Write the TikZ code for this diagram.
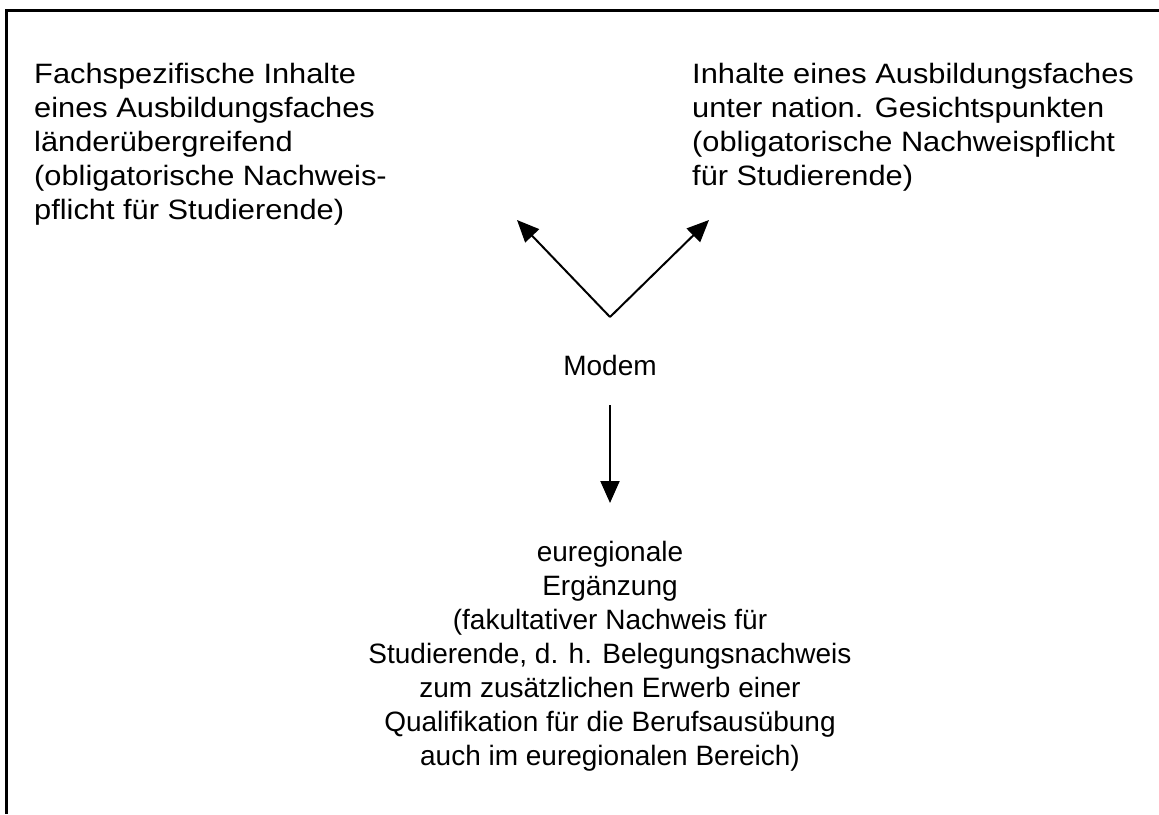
\documentclass[tikz,border=0pt]{standalone}
\usepackage{fontspec}
\setmainfont{Liberation Sans}
\newfontfamily\widefont[FakeStretch=1.1]{Liberation Sans}
\usetikzlibrary{arrows.meta}
\begin{document}
\begin{tikzpicture}[x=1pt,y=-1pt,
  txt/.style={inner sep=0pt,font=\fontsize{28}{34}\selectfont},
  widetxt/.style={inner sep=0pt,font=\widefont\fontsize{28}{34}\selectfont},
  conn/.style={line width=2pt,-{Triangle[length=22pt,width=19pt]}},
  frame/.style={line width=3pt}]
\useasboundingbox (0,0) rectangle (1159,814);
\draw[frame] (6.5,10.5) -- (1159,10.5);
\draw[frame] (6.5,9) -- (6.5,814);
\node[widetxt,anchor=base west,align=left] (left) at (34,219)
  {Fachspezifische Inhalte\\eines Ausbildungsfaches\\länderübergreifend\\(obligatorische Nachweis-\\pflicht für Studierende)};
\node[widetxt,anchor=base west,align=left] (right) at (692,185)
  {Inhalte eines Ausbildungsfaches\\unter nation. Gesichtspunkten\\(obligatorische Nachweispflicht\\für Studierende)};
\node[txt,anchor=base] (modem) at (610,375) {Modem};
\node[txt,anchor=base,align=center] (bottom) at (610,765)
  {euregionale\\Ergänzung\\(fakultativer Nachweis für\\Studierende, d. h. Belegungsnachweis\\zum zusätzlichen Erwerb einer\\Qualifikation für die Berufsausübung\\auch im euregionalen Bereich)};
\coordinate (apex) at (610,317);
\coordinate (tipL) at (517,220);
\coordinate (tipR) at (709,220);
\coordinate (downS) at (610,405);
\coordinate (downE) at (610,503);
\draw[conn] (apex) -- (tipL);
\draw[conn] (apex) -- (tipR);
\draw[conn] (downS) -- (downE);
\end{tikzpicture}
\end{document}
